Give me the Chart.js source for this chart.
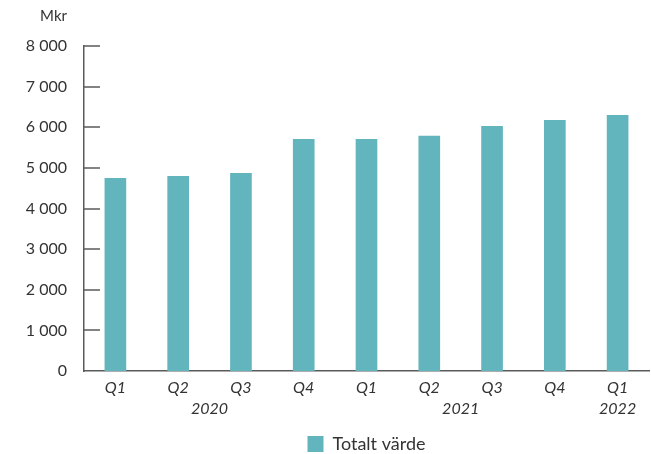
<!DOCTYPE html>
<html>
<head>
<meta charset="utf-8">
<script src="https://cdn.jsdelivr.net/npm/chart.js@4/dist/chart.umd.min.js"></script>
<style>
  html, body { margin: 0; padding: 0; background: #fff; }
  #wrap { width: 651px; height: 454px; }
</style>
</head>
<body>
<div id="wrap"><canvas id="c" width="651" height="454"></canvas></div>
<script>
const categories = ["Q1", "Q2", "Q3", "Q4", "Q1", "Q2", "Q3", "Q4", "Q1"];
const totaltVarde = [4740, 4790, 4865, 5705, 5705, 5780, 6025, 6170, 6295];
const years = ["2020", "2021", "2022"];
const yearStart = [0, 4, 8];
const yearEnd = [3, 7, 8];
const yTicks = [0, 1000, 2000, 3000, 4000, 5000, 6000, 7000, 8000];
const unitLabel = "Mkr";
const seriesName = "Totalt värde";

const FONT = "Lato, 'Noto Sans', sans-serif";
const TEXT = "#333333";
const AXIS = "#5a5a5a";

function fmt(v) {
  return String(v).replace(/\B(?=(\d{3})+(?!\d))/g, " ");
}

const extras = {
  id: "extras",
  afterDraw(chart) {
    const ctx = chart.ctx;
    const x = chart.scales.x, y = chart.scales.y;
    const ca = chart.chartArea;
    ctx.save();
    ctx.strokeStyle = AXIS;
    ctx.lineWidth = 1.5;
    yTicks.forEach(v => {
      if (v === 0) return;
      const py = Math.round(y.getPixelForValue(v));
      ctx.beginPath();
      ctx.moveTo(ca.left, py);
      ctx.lineTo(ca.left + 16, py);
      ctx.stroke();
    });
    ctx.fillStyle = TEXT;
    ctx.font = "15px " + FONT;
    ctx.textAlign = "right";
    ctx.textBaseline = "middle";
    ctx.fillText(unitLabel, ca.left - 17, 16);
    ctx.font = "italic 16px " + FONT;
    ctx.textAlign = "center";
    years.forEach((yr, i) => {
      const px = (x.getPixelForValue(yearStart[i]) + x.getPixelForValue(yearEnd[i])) / 2;
      ctx.fillText(yr, px, 409);
    });
    ctx.restore();
  }
};

new Chart(document.getElementById("c"), {
  type: "bar",
  data: {
    labels: categories,
    datasets: [{
      label: seriesName,
      data: totaltVarde,
      backgroundColor: "#63b5bd",
      borderWidth: 0,
      barThickness: 21
    }]
  },
  options: {
    responsive: false,
    animation: false,
    layout: { padding: { top: 46, right: 2, left: 0, bottom: -9 } },
    plugins: {
      legend: {
        position: "bottom",
        fullSize: false,
        labels: {
          font: { family: FONT, size: 18 },
          color: TEXT,
          boxWidth: 16,
          boxHeight: 16,
          padding: 0
        }
      },
      tooltip: { enabled: false }
    },
    scales: {
      x: {
        grid: { display: false, drawTicks: false },
        border: { display: true, color: AXIS, width: 1.5 },
        ticks: {
          font: { family: FONT, size: 16, style: "italic" },
          color: TEXT,
          padding: 7,
          maxRotation: 0
        },
        afterFit(s) { s.height = 64; }
      },
      y: {
        min: 0,
        max: 8000,
        afterBuildTicks(s) { s.ticks = yTicks.map(v => ({ value: v })); },
        grid: { display: false, drawTicks: false },
        border: { display: true, color: AXIS, width: 1.5 },
        ticks: {
          font: { family: FONT, size: 16 },
          color: TEXT,
          padding: 17,
          callback: v => fmt(v)
        },
        afterFit(s) { s.width = 84; }
      }
    }
  },
  plugins: [extras]
});
</script>
</body>
</html>
